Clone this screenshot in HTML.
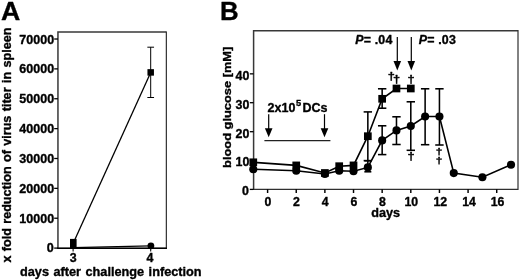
<!DOCTYPE html>
<html lang="en"><head><meta charset="utf-8"><title>Figure</title>
<style>html,body{margin:0;padding:0;background:#fff;overflow:hidden}svg{display:block}text{font-family:"Liberation Sans", Arial, Helvetica, sans-serif;font-weight:bold;fill:#000;stroke:#000;stroke-width:0.35px;stroke-linejoin:round}.ln{stroke:#000;fill:none;stroke-linecap:butt}.ax{stroke:#2b2b2b;stroke-width:1.25;fill:none}.eb{stroke:#000;fill:none}.tk{stroke:#000;stroke-width:1.3;fill:none}</style></head><body>
<svg width="520" height="280" viewBox="0 0 520 280">
<rect width="520" height="280" fill="#fff"/>
<text x="1.1" y="19.6" font-size="26.7">A</text>
<path d="M57.95 248.35V32.1H166.35" fill="none" stroke="#383838" stroke-width="1.5" stroke-linejoin="miter"/>
<path d="M166.35 31.400000000000002V248.35H57.25" fill="none" stroke="#303030" stroke-width="1.2" stroke-linejoin="miter"/>
<line class="tk" x1="54.2" x2="57.95" y1="248.10" y2="248.10"/>
<text x="53.7" y="251.80" font-size="12.6" text-anchor="end">0</text>
<line class="tk" x1="54.2" x2="57.95" y1="218.23" y2="218.23"/>
<text x="54.1" y="222.73" font-size="12.6" text-anchor="end" textLength="34.8" lengthAdjust="spacingAndGlyphs">10000</text>
<line class="tk" x1="54.2" x2="57.95" y1="188.36" y2="188.36"/>
<text x="54.1" y="192.86" font-size="12.6" text-anchor="end" textLength="34.8" lengthAdjust="spacingAndGlyphs">20000</text>
<line class="tk" x1="54.2" x2="57.95" y1="158.49" y2="158.49"/>
<text x="54.1" y="162.99" font-size="12.6" text-anchor="end" textLength="34.8" lengthAdjust="spacingAndGlyphs">30000</text>
<line class="tk" x1="54.2" x2="57.95" y1="128.62" y2="128.62"/>
<text x="54.1" y="133.12" font-size="12.6" text-anchor="end" textLength="34.8" lengthAdjust="spacingAndGlyphs">40000</text>
<line class="tk" x1="54.2" x2="57.95" y1="98.75" y2="98.75"/>
<text x="54.1" y="103.25" font-size="12.6" text-anchor="end" textLength="34.8" lengthAdjust="spacingAndGlyphs">50000</text>
<line class="tk" x1="54.2" x2="57.95" y1="68.88" y2="68.88"/>
<text x="54.1" y="73.38" font-size="12.6" text-anchor="end" textLength="34.8" lengthAdjust="spacingAndGlyphs">60000</text>
<line class="tk" x1="54.2" x2="57.95" y1="39.01" y2="39.01"/>
<text x="54.1" y="43.51" font-size="12.6" text-anchor="end" textLength="34.8" lengthAdjust="spacingAndGlyphs">70000</text>
<line x1="57.35" x2="166.95" y1="248.3" y2="248.3" stroke="#000" stroke-width="1.4"/>
<line class="tk" style="stroke-width:1.05px" x1="73.1" x2="73.1" y1="248.35" y2="251.6"/>
<text x="73.3" y="262.2" font-size="12.4" text-anchor="middle">3</text>
<line class="tk" style="stroke-width:1.05px" x1="150.7" x2="150.7" y1="248.35" y2="251.6"/>
<text x="149.9" y="262.2" font-size="12.4" text-anchor="middle">4</text>
<text transform="translate(10.7 262.6) rotate(-90)" font-size="12.6" word-spacing="0.88">x fold reduction of virus titer in spleen</text>
<text transform="translate(20.0 275.8) scale(1.018 1)" font-size="12.5" word-spacing="0.9">days after challenge infection</text>
<polyline class="ln" stroke-width="1.3" points="73.2,243.2 150.7,72.4"/>
<polyline class="ln" stroke-width="1.3" points="73.2,247.6 150.9,245.8"/>
<line class="eb" stroke-width="1.0" x1="150.70" x2="150.70" y1="47.20" y2="97.50"/>
<line class="eb" stroke-width="1.0" x1="147.35" x2="154.05" y1="47.20" y2="47.20"/>
<line class="eb" stroke-width="1.0" x1="147.35" x2="154.05" y1="97.50" y2="97.50"/>
<rect x="147.45" y="69.15" width="6.5" height="6.5" fill="#000"/>
<rect x="70" y="238.9" width="6.6" height="9.6" fill="#000"/>
<circle cx="150.90" cy="245.80" r="3.4" fill="#000"/>
<text x="220.0" y="19.5" font-size="25.8">B</text>
<path d="M253.6 189.3V30.7H518.0" fill="none" stroke="#383838" stroke-width="1.5" stroke-linejoin="miter"/>
<path d="M518.0 30.0V189.3H252.9" fill="none" stroke="#303030" stroke-width="1.2" stroke-linejoin="miter"/>
<line class="tk" x1="249.8" x2="253.6" y1="189.4" y2="189.4"/>
<text x="248.9" y="195.30" font-size="12.4" text-anchor="end">0</text>
<line class="tk" x1="249.8" x2="253.6" y1="160.5" y2="160.5"/>
<text x="249.3" y="166.40" font-size="12.4" text-anchor="end">10</text>
<line class="tk" x1="249.8" x2="253.6" y1="131.7" y2="131.7"/>
<text x="249.3" y="137.60" font-size="12.4" text-anchor="end">20</text>
<line class="tk" x1="249.8" x2="253.6" y1="102.7" y2="102.7"/>
<text x="249.3" y="108.60" font-size="12.4" text-anchor="end">30</text>
<line class="tk" x1="249.8" x2="253.6" y1="73.85" y2="73.85"/>
<text x="249.3" y="79.75" font-size="12.4" text-anchor="end">40</text>
<line class="tk" style="stroke-width:1.45px" x1="267.60" x2="267.60" y1="189.3" y2="193"/>
<text x="267.90" y="206.3" font-size="12.3" text-anchor="middle">0</text>
<line class="tk" style="stroke-width:1.45px" x1="296.24" x2="296.24" y1="189.3" y2="193"/>
<text x="296.54" y="206.3" font-size="12.3" text-anchor="middle">2</text>
<line class="tk" style="stroke-width:1.45px" x1="324.88" x2="324.88" y1="189.3" y2="193"/>
<text x="325.18" y="206.3" font-size="12.3" text-anchor="middle">4</text>
<line class="tk" style="stroke-width:1.45px" x1="353.52" x2="353.52" y1="189.3" y2="193"/>
<text x="353.82" y="206.3" font-size="12.3" text-anchor="middle">6</text>
<line class="tk" style="stroke-width:1.45px" x1="382.16" x2="382.16" y1="189.3" y2="193"/>
<text x="382.46" y="206.3" font-size="12.3" text-anchor="middle">8</text>
<line class="tk" style="stroke-width:1.45px" x1="410.80" x2="410.80" y1="189.3" y2="193"/>
<text x="411.30" y="206.3" font-size="12.3" text-anchor="middle">10</text>
<line class="tk" style="stroke-width:1.45px" x1="439.44" x2="439.44" y1="189.3" y2="193"/>
<text x="440.34" y="206.3" font-size="12.3" text-anchor="middle">12</text>
<line class="tk" style="stroke-width:1.45px" x1="468.08" x2="468.08" y1="189.3" y2="193"/>
<text x="468.98" y="206.3" font-size="12.3" text-anchor="middle">14</text>
<line class="tk" style="stroke-width:1.45px" x1="496.72" x2="496.72" y1="189.3" y2="193"/>
<text x="497.62" y="206.3" font-size="12.3" text-anchor="middle">16</text>
<text x="371.3" y="216.6" font-size="12.5" textLength="28.8" lengthAdjust="spacingAndGlyphs">days</text>
<text transform="translate(230.9 167.9) rotate(-90)" font-size="11.8" textLength="121.2" lengthAdjust="spacingAndGlyphs">blood glucose [mM]</text>
<text x="267.6" y="111.7" font-size="12.5">2x10<tspan font-size="9.3" dx="0.6" dy="-5.9">5</tspan><tspan dx="1.2" dy="5.9">DCs</tspan></text>
<line x1="268.7" x2="268.7" y1="114.2" y2="129.3" stroke="#000" stroke-width="1.2"/>
<polygon points="264.90,128.3 272.50,128.3 268.7,137.2" fill="#000"/>
<line x1="324.5" x2="324.5" y1="114.2" y2="129.3" stroke="#000" stroke-width="1.2"/>
<polygon points="320.70,128.3 328.30,128.3 324.5,137.2" fill="#000"/>
<line x1="264.4" x2="330.4" y1="140.6" y2="140.6" stroke="#222" stroke-width="1.3"/>
<text x="355.2" y="43.7" font-size="12.4" textLength="37.1" lengthAdjust="spacing"><tspan font-style="italic">P</tspan>= .04</text>
<text x="418.7" y="43.7" font-size="12.4" textLength="37.1" lengthAdjust="spacing"><tspan font-style="italic">P</tspan>= .03</text>
<line x1="397.3" x2="397.3" y1="37" y2="62.1" stroke="#000" stroke-width="1.2"/>
<polygon points="393.50,61.1 401.10,61.1 397.3,70.4" fill="#000"/>
<line x1="411.3" x2="411.3" y1="37" y2="62.1" stroke="#000" stroke-width="1.2"/>
<polygon points="407.50,61.1 415.10,61.1 411.3,70.4" fill="#000"/>
<polyline class="ln" stroke-width="1.6" points="253.28,162.3 296.24,165.4 324.88,173 339.20,166.2 353.52,165.4 367.84,136.2 382.16,98.8 396.48,88.5 410.80,88.5"/>
<polyline class="ln" stroke-width="1.6" points="253.28,169.2 296.24,170.8 324.88,174 339.20,170.8 353.52,171.2 367.84,167.4 382.16,140.4 396.48,130.4 410.80,126 425.12,116.5 439.44,116.5 453.76,173.1 482.40,177.2 511.04,164.7"/>
<line class="eb" stroke-width="1.55" x1="367.84" x2="367.84" y1="111.90" y2="160.60"/>
<line class="eb" stroke-width="1.55" x1="363.64" x2="372.04" y1="111.90" y2="111.90"/>
<line class="eb" stroke-width="1.55" x1="363.64" x2="372.04" y1="160.60" y2="160.60"/>
<line class="eb" stroke-width="1.55" x1="382.16" x2="382.16" y1="88.80" y2="108.20"/>
<line class="eb" stroke-width="1.55" x1="377.96" x2="386.36" y1="88.80" y2="88.80"/>
<line class="eb" stroke-width="1.55" x1="377.96" x2="386.36" y1="108.20" y2="108.20"/>
<line class="eb" stroke-width="1.55" x1="367.84" x2="367.84" y1="160.80" y2="171.80"/>
<line class="eb" stroke-width="1.55" x1="364.34" x2="371.34" y1="160.80" y2="160.80"/>
<line class="eb" stroke-width="1.55" x1="364.34" x2="371.34" y1="171.80" y2="171.80"/>
<line class="eb" stroke-width="1.55" x1="382.16" x2="382.16" y1="125.80" y2="154.60"/>
<line class="eb" stroke-width="1.55" x1="377.96" x2="386.36" y1="125.80" y2="125.80"/>
<line class="eb" stroke-width="1.55" x1="377.96" x2="386.36" y1="154.60" y2="154.60"/>
<line class="eb" stroke-width="1.55" x1="396.48" x2="396.48" y1="116.80" y2="144.50"/>
<line class="eb" stroke-width="1.55" x1="392.28" x2="400.68" y1="116.80" y2="116.80"/>
<line class="eb" stroke-width="1.55" x1="392.28" x2="400.68" y1="144.50" y2="144.50"/>
<line class="eb" stroke-width="1.55" x1="410.80" x2="410.80" y1="101.80" y2="150.30"/>
<line class="eb" stroke-width="1.55" x1="406.60" x2="415.00" y1="101.80" y2="101.80"/>
<line class="eb" stroke-width="1.55" x1="406.60" x2="415.00" y1="150.30" y2="150.30"/>
<line class="eb" stroke-width="1.55" x1="425.12" x2="425.12" y1="88.80" y2="144.70"/>
<line class="eb" stroke-width="1.55" x1="420.92" x2="429.32" y1="88.80" y2="88.80"/>
<line class="eb" stroke-width="1.55" x1="420.92" x2="429.32" y1="144.70" y2="144.70"/>
<line class="eb" stroke-width="1.55" x1="439.44" x2="439.44" y1="88.80" y2="145.00"/>
<line class="eb" stroke-width="1.55" x1="435.24" x2="443.64" y1="88.80" y2="88.80"/>
<line class="eb" stroke-width="1.55" x1="435.24" x2="443.64" y1="145.00" y2="145.00"/>
<rect x="249.43" y="158.45" width="7.7" height="7.7" fill="#000"/>
<rect x="292.39" y="161.55" width="7.7" height="7.7" fill="#000"/>
<rect x="321.03" y="169.15" width="7.7" height="7.7" fill="#000"/>
<rect x="335.35" y="162.35" width="7.7" height="7.7" fill="#000"/>
<rect x="349.67" y="161.55" width="7.7" height="7.7" fill="#000"/>
<rect x="363.99" y="132.35" width="7.7" height="7.7" fill="#000"/>
<rect x="378.31" y="94.95" width="7.7" height="7.7" fill="#000"/>
<rect x="392.63" y="84.65" width="7.7" height="7.7" fill="#000"/>
<rect x="406.95" y="84.65" width="7.7" height="7.7" fill="#000"/>
<circle cx="253.28" cy="169.20" r="4.05" fill="#000"/>
<circle cx="296.24" cy="170.80" r="4.05" fill="#000"/>
<circle cx="324.88" cy="174.00" r="4.05" fill="#000"/>
<circle cx="339.20" cy="170.80" r="4.05" fill="#000"/>
<circle cx="353.52" cy="171.20" r="4.05" fill="#000"/>
<circle cx="367.84" cy="167.40" r="4.05" fill="#000"/>
<circle cx="382.16" cy="140.40" r="4.05" fill="#000"/>
<circle cx="396.48" cy="130.40" r="4.05" fill="#000"/>
<circle cx="410.80" cy="126.00" r="4.05" fill="#000"/>
<circle cx="425.12" cy="116.50" r="4.05" fill="#000"/>
<circle cx="439.44" cy="116.50" r="4.05" fill="#000"/>
<circle cx="453.76" cy="173.10" r="4.05" fill="#000"/>
<circle cx="482.40" cy="177.20" r="4.05" fill="#000"/>
<circle cx="511.04" cy="164.70" r="4.05" fill="#000"/>
<text x="391.40" y="79.9" font-size="10.3" text-anchor="middle" style="stroke-width:0.32px" textLength="7.16" lengthAdjust="spacingAndGlyphs">†</text>
<text x="396.50" y="83.4" font-size="10.3" text-anchor="middle" style="stroke-width:0.32px" textLength="7.16" lengthAdjust="spacingAndGlyphs">†</text>
<text x="411.00" y="83.4" font-size="10.3" text-anchor="middle" style="stroke-width:0.32px" textLength="7.16" lengthAdjust="spacingAndGlyphs">†</text>
<text x="411.10" y="159.7" font-size="10.3" text-anchor="middle" style="stroke-width:0.32px" textLength="7.16" lengthAdjust="spacingAndGlyphs">†</text>
<text x="439.00" y="155.2" font-size="9.6" text-anchor="middle" style="stroke-width:0.32px" textLength="6.67" lengthAdjust="spacingAndGlyphs">†</text>
<text x="439.00" y="164.2" font-size="9.6" text-anchor="middle" style="stroke-width:0.32px" textLength="6.67" lengthAdjust="spacingAndGlyphs">†</text>
</svg></body></html>
